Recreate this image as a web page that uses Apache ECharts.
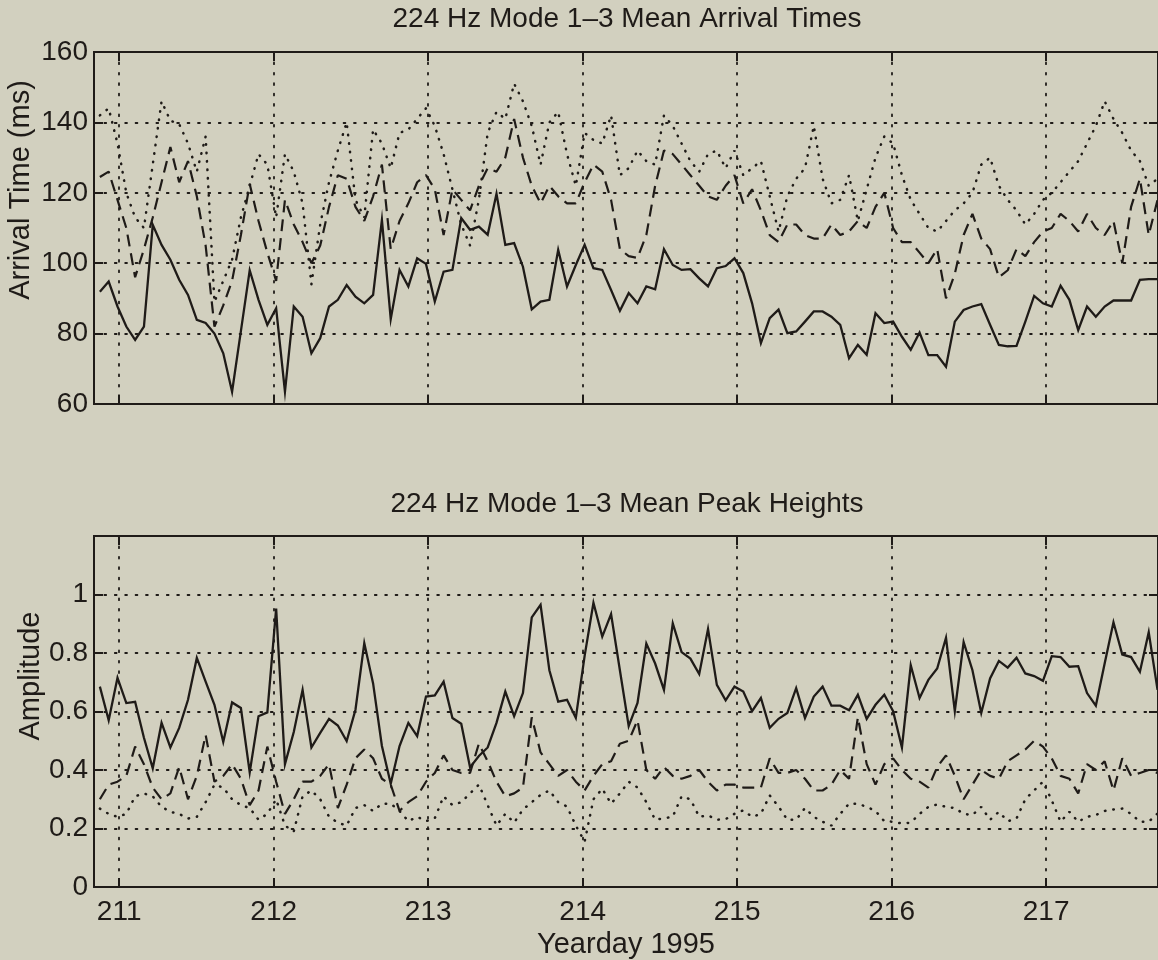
<!DOCTYPE html>
<html>
<head>
<meta charset="utf-8">
<script src="https://cdn.jsdelivr.net/npm/echarts@6/dist/echarts.min.js"></script>
<style>
  html, body { margin: 0; padding: 0; background: #d2d0bf; }
  #chart { width: 1158px; height: 960px; }
</style>
</head>
<body>
<div id="chart"></div>
<script>
// Sample times: regular sampling, one estimate every ~82 minutes (yearday 1995)
const firstDay = 210.875;
const stepDays = 0.05705;

// Upper panel: mean arrival times (ms) for the three curves
const arrivalSolid = [
  91.9, 94.8, 87.7, 82, 78.2, 82, 110.9, 105.2, 101, 95.3,
  91, 83.9, 83, 80, 74.4, 63.5, 80.7, 98, 89.6, 82.5,
  87.2, 63.5, 87.7, 84.8, 74.4, 78.7, 87.7, 89.6, 93.8, 90.5,
  88.6, 91, 112.3, 84.1, 98.1, 93.4, 101.4, 99.8, 89.1, 97.6,
  98.1, 112.8, 109.5, 110.4, 108.1, 119.7, 105.2, 105.7, 99, 86.9,
  89.1, 89.6, 103.8, 93.4, 99.5, 105.2, 98.6, 98.1, 92.4, 86.5,
  91.5, 88.6, 93.4, 92.6, 104, 99.5, 98.1, 98.3, 95.7, 93.4,
  98.6, 99.2, 101.4, 97.2, 88.6, 77.3, 84.4, 86.8, 80.1, 80.6,
  83.4, 86.3, 86.3, 84.8, 82.5, 73, 76.8, 74, 85.8, 83,
  83.4, 79.1, 75.4, 80.3, 73.9, 73.9, 70.6, 83.4, 86.7, 87.7,
  88.4, 82.5, 76.8, 76.4, 76.5, 83.4, 90.7, 88.6, 87.7, 93.6,
  89.6, 81, 87.7, 84.8, 87.7, 89.4, 89.4, 89.4, 95.3, 95.5, 95.5
];
const arrivalDashed = [
  124.5, 126, 118, 110, 96, 104, 113, 123, 133, 123,
  129, 119, 105, 82, 88, 95, 108, 122.5, 112, 103,
  95, 118, 111, 106, 100, 105, 116, 125, 124, 116,
  112, 119, 128, 104, 112, 117, 123, 125, 121, 108,
  121, 118, 115, 122, 127, 126, 130, 141, 130, 122,
  117, 122, 119, 117, 117, 123, 128, 126, 118, 104,
  102, 101.5, 108, 122, 132, 131, 128, 125, 122, 119,
  118, 122, 125, 117, 121, 115, 108, 106, 111, 111,
  108, 107, 107, 111, 108, 109, 112, 110, 116, 120,
  110, 106, 106, 103, 100, 104, 90, 97, 108, 114,
  107, 104, 96, 98, 104, 102, 106, 109, 110, 114,
  112, 109, 114, 110, 108, 112, 100, 116, 124, 108, 118
];
const arrivalDotted = [
  142, 144, 134, 120, 113, 110, 128, 146, 140.5, 139.5,
  134, 126, 136, 89, 95, 101, 113, 122, 131, 128,
  113, 131, 126, 117, 94, 111, 123, 132, 140, 118,
  113, 138, 134, 127, 137, 138, 141, 144, 139, 131,
  121, 111, 105, 118, 137, 143, 141, 151, 146, 139,
  128, 140, 143, 131, 122, 137, 135, 134, 142, 125,
  127, 132, 129, 128, 142, 139, 134, 129, 126, 131,
  132, 127, 132, 125, 127, 129, 119, 109, 119, 124,
  127, 139, 124, 117, 118, 125, 112, 121, 130, 136,
  134, 125, 118, 114, 110, 109, 112, 115, 117, 120,
  128, 130, 122, 118, 115, 111, 114, 118, 120, 123,
  126, 129, 134, 139, 146, 141, 137, 132, 129, 122, 124
];

// Lower panel: mean peak heights (amplitude) for the three curves
const peakSolid = [
  0.685, 0.570, 0.715, 0.629, 0.633, 0.510, 0.406, 0.561, 0.477, 0.544,
  0.640, 0.783, 0.702, 0.623, 0.496, 0.631, 0.612, 0.392, 0.584, 0.597,
  0.952, 0.420, 0.530, 0.674, 0.477, 0.527, 0.575, 0.552, 0.499, 0.606,
  0.834, 0.696, 0.482, 0.353, 0.482, 0.561, 0.516, 0.651, 0.655, 0.702,
  0.578, 0.558, 0.409, 0.448, 0.477, 0.561, 0.668, 0.584, 0.663, 0.922,
  0.965, 0.741, 0.634, 0.640, 0.578, 0.790, 0.972, 0.856, 0.933, 0.741,
  0.550, 0.629, 0.832, 0.764, 0.674, 0.901, 0.803, 0.781, 0.728, 0.882,
  0.691, 0.638, 0.685, 0.668, 0.601, 0.646, 0.544, 0.575, 0.595, 0.680,
  0.578, 0.651, 0.685, 0.620, 0.620, 0.604, 0.657, 0.575, 0.623, 0.657,
  0.601, 0.477, 0.758, 0.646, 0.708, 0.747, 0.852, 0.601, 0.837, 0.741,
  0.595, 0.713, 0.773, 0.750, 0.784, 0.730, 0.721, 0.705, 0.789, 0.786,
  0.753, 0.755, 0.663, 0.620, 0.764, 0.905, 0.795, 0.786, 0.736, 0.871, 0.674
];
const peakDashed = [
  0.30, 0.35, 0.36, 0.38, 0.48, 0.42, 0.34, 0.30, 0.32, 0.41,
  0.30, 0.38, 0.52, 0.36, 0.38, 0.42, 0.37, 0.28, 0.33, 0.48,
  0.36, 0.25, 0.30, 0.36, 0.36, 0.38, 0.42, 0.27, 0.35, 0.44,
  0.47, 0.44, 0.37, 0.35, 0.26, 0.29, 0.31, 0.36, 0.39, 0.45,
  0.40, 0.39, 0.39, 0.49, 0.43, 0.36, 0.31, 0.32, 0.34, 0.58,
  0.46, 0.42, 0.38, 0.40, 0.36, 0.33, 0.38, 0.42, 0.43, 0.49,
  0.50, 0.57, 0.40, 0.37, 0.41, 0.38, 0.37, 0.38, 0.40, 0.36,
  0.33, 0.35, 0.35, 0.34, 0.34, 0.34, 0.44, 0.39, 0.39, 0.40,
  0.37, 0.33, 0.33, 0.35, 0.40, 0.37, 0.58, 0.42, 0.35, 0.42,
  0.44, 0.40, 0.37, 0.36, 0.34, 0.41, 0.45, 0.38, 0.30, 0.35,
  0.40, 0.38, 0.37, 0.43, 0.45, 0.47, 0.50, 0.48, 0.44, 0.38,
  0.37, 0.32, 0.42, 0.40, 0.43, 0.33, 0.44, 0.38, 0.39, 0.40, 0.39
];
const peakDotted = [
  0.268, 0.25, 0.24, 0.25, 0.31, 0.32, 0.31, 0.274, 0.257, 0.25,
  0.234, 0.24, 0.29, 0.35, 0.34, 0.30, 0.28, 0.27, 0.23, 0.25,
  0.30, 0.21, 0.19, 0.31, 0.33, 0.30, 0.24, 0.22, 0.21, 0.27,
  0.28, 0.26, 0.285, 0.285, 0.26, 0.225, 0.24, 0.225, 0.235, 0.31,
  0.28, 0.29, 0.32, 0.35, 0.28, 0.21, 0.25, 0.22, 0.265, 0.29,
  0.315, 0.33, 0.29, 0.275, 0.21, 0.155, 0.30, 0.336, 0.285, 0.32,
  0.36, 0.34, 0.29, 0.23, 0.235, 0.24, 0.31, 0.30, 0.24, 0.245,
  0.23, 0.232, 0.25, 0.262, 0.24, 0.25, 0.313, 0.275, 0.23, 0.23,
  0.27, 0.24, 0.223, 0.21, 0.25, 0.285, 0.285, 0.274, 0.26, 0.225,
  0.223, 0.217, 0.22, 0.25, 0.274, 0.282, 0.274, 0.27, 0.25, 0.246,
  0.274, 0.23, 0.257, 0.225, 0.234, 0.30, 0.33, 0.36, 0.296, 0.223,
  0.257, 0.223, 0.24, 0.246, 0.26, 0.265, 0.268, 0.25, 0.223, 0.223, 0.251
];

// Axis text
const titles = ['224 Hz Mode 1\u20133 Mean Arrival Times', '224 Hz Mode 1\u20133 Mean Peak Heights'];
const yNames = ['Arrival Time (ms)', 'Amplitude'];
const xName = 'Yearday 1995';
const dayTicks = [211, 212, 213, 214, 215, 216, 217];

const ink = '#1f1b18';
const font = '"Liberation Sans", Arial, Helvetica, sans-serif';
const xMin = 210.837, xMax = 217.724;

function pairs(values) {
  return values.map((v, i) => [firstDay + i * stepDays, v]);
}

const gridDots = { color: ink, width: 1.8, type: [1.8, 8.6], cap: 'round' };
const tickStyle = { show: true, inside: true, length: 9, lineStyle: { color: ink, width: 2 } };
const boxLine = { show: true, onZero: false, lineStyle: { color: ink, width: 2 } };

function xAxes(gridIndex, showLabels) {
  const base = {
    type: 'value', gridIndex, min: xMin, max: xMax,
    minInterval: 1, maxInterval: 1, splitNumber: 7
  };
  return [
    Object.assign({}, base, {
      position: 'bottom',
      axisLine: boxLine,
      axisTick: tickStyle,
      axisLabel: {
        show: showLabels, color: ink, fontSize: 28, fontFamily: font, margin: 11,
        showMinLabel: false, showMaxLabel: false,
        formatter: v => (dayTicks.includes(Math.round(v)) && Math.abs(v - Math.round(v)) < 1e-6) ? String(Math.round(v)) : ''
      },
      splitLine: { show: true, lineStyle: gridDots },
      name: showLabels ? xName : '',
      nameLocation: 'middle', nameGap: 43,
      nameTextStyle: { color: ink, fontSize: 29, fontFamily: font }
    }),
    Object.assign({}, base, {
      position: 'top',
      axisLine: boxLine,
      axisTick: tickStyle,
      axisLabel: { show: false },
      splitLine: { show: false }
    })
  ];
}

function yAxes(gridIndex, min, max, interval, hideTop) {
  const base = { type: 'value', gridIndex, min, max, interval };
  return [
    Object.assign({}, base, {
      position: 'left',
      axisLine: boxLine,
      axisTick: tickStyle,
      axisLabel: {
        color: ink, fontSize: 28, fontFamily: font, margin: 6,
        formatter: v => (hideTop && Math.abs(v - max) < 1e-9) ? '' : String(+v.toFixed(2))
      },
      splitLine: {
        show: true,
        lineStyle: gridDots,
        interval: (idx, v) => !(hideTop && Math.abs(v - max) < 1e-9)
      }
    }),
    Object.assign({}, base, {
      position: 'right',
      axisLine: boxLine,
      axisTick: tickStyle,
      axisLabel: { show: false },
      splitLine: { show: false }
    })
  ];
}

function curve(values, xi, yi, style) {
  return {
    type: 'line', xAxisIndex: xi, yAxisIndex: yi,
    data: pairs(values), showSymbol: false, symbol: 'none',
    silent: true, animation: false, clip: true,
    lineStyle: Object.assign({ color: ink }, style)
  };
}

const solid = { width: 2.3, type: 'solid', join: 'miter' };
const dashed = { width: 2.2, type: [12, 7] };
const dotted = { width: 2.5, type: [0.5, 8], cap: 'round' };

// Rotated y-axis titles, placed beside each panel
function yTitle(text, x, y) {
  return {
    type: 'text', x, y, rotation: Math.PI / 2, silent: true,
    style: {
      text, fill: ink, fontSize: 29, fontFamily: font,
      textAlign: 'center', textVerticalAlign: 'middle'
    }
  };
}

const chart = echarts.init(document.getElementById('chart'), null, { renderer: 'canvas' });
chart.setOption({
  backgroundColor: '#d2d0bf',
  animation: false,
  title: [
    { text: titles[0], left: 627, top: 5, textAlign: 'center', padding: 0,
      textStyle: { color: ink, fontSize: 28, fontWeight: 'normal', fontFamily: font } },
    { text: titles[1], left: 627, top: 490, textAlign: 'center', padding: 0,
      textStyle: { color: ink, fontSize: 28, fontWeight: 'normal', fontFamily: font } }
  ],
  grid: [
    { left: 94, top: 52, width: 1066, height: 352 },
    { left: 94, top: 536, width: 1066, height: 352 }
  ],
  xAxis: [...xAxes(0, false), ...xAxes(1, true)],
  yAxis: [
    ...yAxes(0, 60, 160, 20, false),
    ...yAxes(1, 0, 1.2, 0.2, true)
  ],
  graphic: [
    yTitle(yNames[0], 21, 190),
    yTitle(yNames[1], 31, 676)
  ],
  series: [
    curve(arrivalSolid, 0, 0, solid),
    curve(arrivalDashed, 0, 0, dashed),
    curve(arrivalDotted, 0, 0, dotted),
    curve(peakSolid, 2, 2, solid),
    curve(peakDashed, 2, 2, dashed),
    curve(peakDotted, 2, 2, dotted)
  ]
});
</script>
</body>
</html>
